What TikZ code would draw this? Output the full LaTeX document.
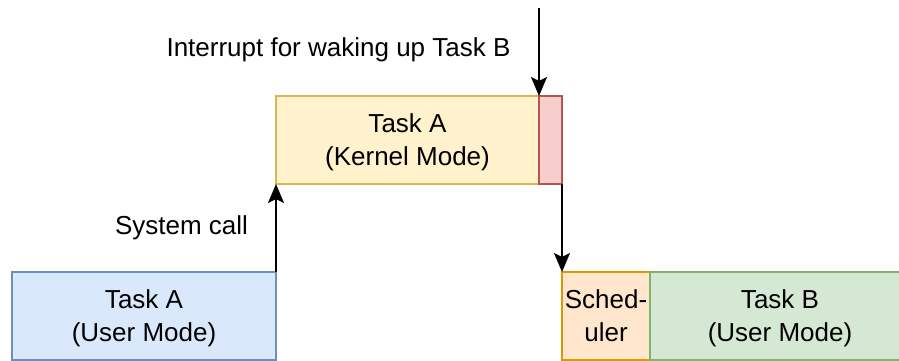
\documentclass[tikz,border=0pt]{standalone}
\usepackage{fontspec}
\setmainfont{Liberation Sans}
\usetikzlibrary{arrows.meta}
\definecolor{blueF}{HTML}{DAE8FC}\definecolor{blueS}{HTML}{6C8EBF}
\definecolor{yelF}{HTML}{FFF2CC}\definecolor{yelS}{HTML}{D6B656}
\definecolor{redF}{HTML}{F8CECC}\definecolor{redS}{HTML}{B85450}
\definecolor{orgF}{HTML}{FFE6CC}\definecolor{orgS}{HTML}{D79B00}
\definecolor{grnF}{HTML}{D5E8D4}\definecolor{grnS}{HTML}{82B366}
\tikzset{
  phase/.style={draw, line width=1.5pt, rectangle, inner sep=0pt, outer sep=0pt, align=center,
    text depth=0pt, font=\fontsize{26}{33}\selectfont},
  label/.style={inner sep=0pt, font=\fontsize{26}{33}\selectfont},
  flow/.style={line width=2pt, -{Stealth[length=19pt,width=16pt,inset=4pt]}}
}
\begin{document}
\begin{tikzpicture}[x=1pt,y=-1pt]
\useasboundingbox (0,0) rectangle (899,360);
% user-mode part of task A
\node[phase, fill=blueF, draw=blueS, minimum width=264pt, minimum height=88pt] (ua) at (144,316) {Task A\\(User Mode)};
% kernel-mode part of task A
\node[phase, fill=yelF, draw=yelS, minimum width=263pt, minimum height=88pt] (ka) at (407.5,140) {Task A\\(Kernel Mode)};
% interrupt handling slice
\node[phase, fill=redF, draw=redS, minimum width=23pt, minimum height=88pt] (rb) at (550.5,140) {};
% scheduler
\node[phase, fill=orgF, draw=orgS, minimum width=88pt, minimum height=88pt] (sch) at (606,316) {Sched-\\uler};
% task B in user mode
\node[phase, fill=grnF, draw=grnS, minimum width=260pt, minimum height=88pt] (ub) at (780,316) {Task B\\(User Mode)};
% labels
\node[label] (lsys) at (181.5,228) {System call};
\node[label] (lirq) at (338.5,50) {Interrupt for waking up Task B};
% connectors
\coordinate (irq) at (539,8);
\draw[flow] (ua.north east) -- (ua.north east |- ka.south);
\draw[flow] (irq) -- (irq |- rb.north);
\draw[flow] (rb.south east) -- (rb.south east |- sch.north);
\end{tikzpicture}
\end{document}
